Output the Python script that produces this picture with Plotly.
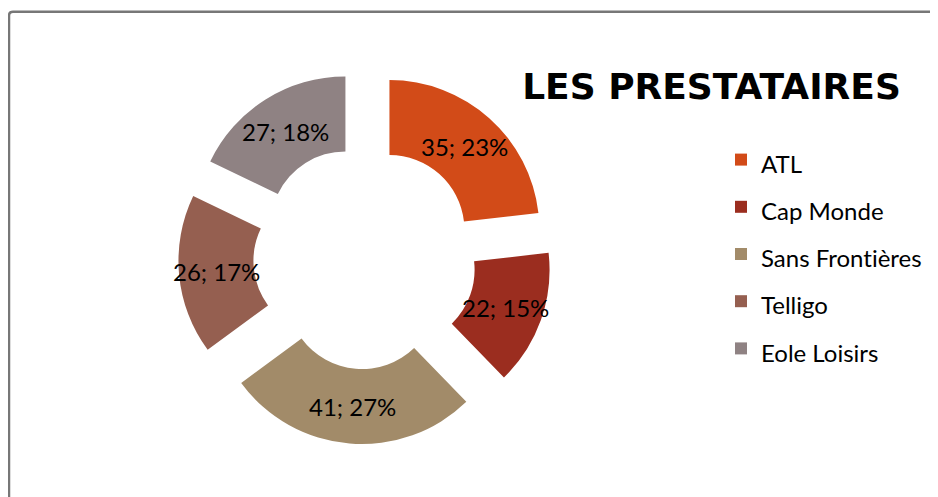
import math
import plotly.graph_objects as go

# ---- data ----
categories = ["ATL", "Cap Monde", "Sans Frontières", "Telligo", "Eole Loisirs"]
values = [35, 22, 41, 26, 27]
colors = ["#D24B18", "#9B2D1F", "#A28B69", "#955F50", "#8F8283"]
title_text = "LES PRESTATAIRES"

# ---- layout constants ----
W, H = 938, 497
OFF = 8  # page body margin of the rendered html
PULL = 0.245
HOLE = 0.5
CX, CY, EXT = 365 - OFF, 257.5 - OFF, 186.7   # pie centre (px) and pulled outer extent
dom_x = [(CX - EXT) / W, (CX + EXT) / W]
dom_y = [1 - (CY + EXT) / H, 1 - (CY - EXT) / H]
LABEL_FONT = "Lato, Open Sans, sans-serif"
LABEL_SIZE = 24
LEGEND_SIZE = 24

# legend labels (styled text, plain category names)
legend_labels = [
    f'<span style="font-size:{LEGEND_SIZE}px;font-variant-ligatures:none">{c}</span>'
    for c in categories
]

fig = go.Figure()
fig.add_trace(go.Pie(
    labels=legend_labels,
    values=values,
    hole=HOLE,
    pull=[PULL] * len(values),
    sort=False,
    direction="clockwise",
    rotation=0,
    marker=dict(colors=colors, line=dict(width=0)),
    textinfo="none",
    hoverinfo="skip",
    domain=dict(x=dom_x, y=dom_y),
    showlegend=True,
))

# data labels derived from values (value; percent) at ring middle of each pulled slice
total = sum(values)
wpx = (dom_x[1] - dom_x[0]) * W
hpx = (dom_y[1] - dom_y[0]) * H
R = min(wpx, hpx) / (2 * (1 + PULL))
cxp = (dom_x[0] + dom_x[1]) / 2
cyp = (dom_y[0] + dom_y[1]) / 2
dist = PULL * R + R * (1 + HOLE) / 2
cum = 0
for v in values:
    mid = (cum + v / 2) / total * 2 * math.pi
    cum += v
    fig.add_annotation(
        x=cxp + dist * math.sin(mid) / W,
        y=cyp + dist * math.cos(mid) / H,
        xref="paper", yref="paper",
        text=f"{v}; {round(100 * v / total)}%",
        showarrow=False,
        font=dict(family=LABEL_FONT, size=LABEL_SIZE, color="#000000"),
        xanchor="center", yanchor="middle",
    )

# chart frame (top and left edges visible)
x0 = 1.0 / W
yt = 1 - 3.8 / H
rx = 4 / W
ry = 4 / H
fig.add_shape(
    type="path", xref="paper", yref="paper",
    path=f"M {x0},-0.05 L {x0},{yt - ry} Q {x0},{yt} {x0 + rx},{yt} L 1.05,{yt}",
    line=dict(color="#777777", width=2.5),
)

fig.update_layout(
    width=W, height=H,
    margin=dict(l=0, r=0, t=0, b=0),
    paper_bgcolor="white",
    plot_bgcolor="white",
    title=dict(
        text=f"<b>{title_text}</b>",
        x=(711.5 - OFF) / W, xanchor="center",
        y=1 - (86 - OFF) / H, yanchor="middle",
        xref="paper", yref="paper",
        font=dict(family="Comic Sans MS, DejaVu Sans, sans-serif", size=36, color="#000000"),
    ),
    legend=dict(
        x=(735 - 14 - OFF) / W, xanchor="left",
        y=1 - (131 - OFF) / H, yanchor="top",
        font=dict(family=LABEL_FONT, size=34, color="#000000"),
        bgcolor="rgba(0,0,0,0)",
        borderwidth=0,
    ),
)

fig.write_html("out.html")
